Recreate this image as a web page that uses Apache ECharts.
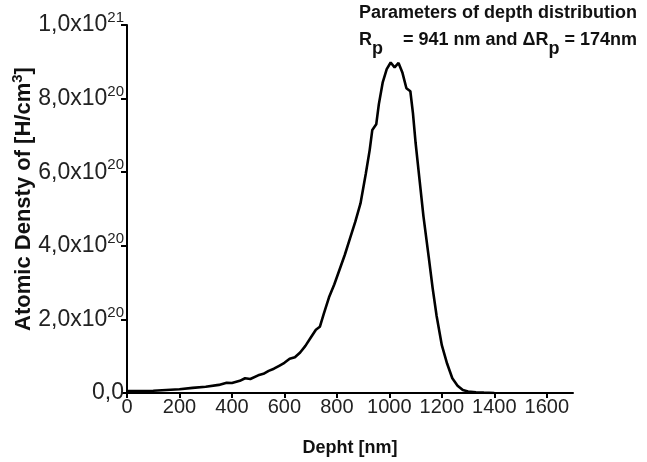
<!DOCTYPE html>
<html><head><meta charset="utf-8">
<script src="https://cdn.jsdelivr.net/npm/echarts@6/dist/echarts.min.js"></script>
<style>html,body{margin:0;padding:0;background:#fff}#c{width:647px;height:462px}</style>
</head><body><div id="c"></div>
<script>
// Depth (nm)
const depthNm = [0,50,100,150,200,250,300,350,380,400,430,450,470,500,520,540,560,580,600,620,640,660,680,700,720,735,750,770,790,810,830,850,870,890,910,925,935,950,960,975,990,1005,1020,1035,1050,1065,1080,1090,1100,1115,1130,1150,1165,1180,1200,1220,1240,1260,1280,1300,1330,1360,1400];
// Atomic density in units of 1e20 H/cm^3
const densityE20 = [0.05,0.05,0.06,0.08,0.10,0.14,0.17,0.22,0.28,0.27,0.33,0.40,0.38,0.48,0.52,0.60,0.66,0.74,0.82,0.93,0.97,1.10,1.28,1.50,1.72,1.80,2.15,2.60,2.95,3.35,3.75,4.20,4.65,5.15,5.95,6.60,7.15,7.30,7.85,8.45,8.80,8.98,8.85,8.97,8.70,8.28,8.20,7.60,6.80,5.80,4.80,3.70,2.85,2.10,1.30,0.80,0.40,0.20,0.08,0.04,0.02,0.01,0];
const xTicks = [0,200,400,600,800,1000,1200,1400,1600];
const yTicks = [0,2,4,6,8,10];

const FONT = "'Liberation Sans', Arial, sans-serif";
const data = depthNm.map((d, i) => [d, densityE20[i]]);

const chart = echarts.init(document.getElementById('c'), null, {renderer: 'canvas'});
chart.setOption({
  animation: false,
  backgroundColor: '#fff',
  grid: {left: 127, right: 74, top: 25, bottom: 69, containLabel: false},
  xAxis: {
    type: 'value', min: 0, max: 1700,
    name: 'Depht [nm]', nameLocation: 'middle', nameGap: 46,
    nameTextStyle: {fontFamily: FONT, fontWeight: 'bold', fontSize: 18, color: '#111'},
    axisLine: {lineStyle: {color: '#000', width: 2}},
    axisTick: {show: true, length: 5, lineStyle: {color: '#000', width: 2}, customValues: xTicks},
    axisLabel: {fontFamily: FONT, fontSize: 20, color: '#222', margin: 4, customValues: xTicks,
      formatter: function (v) { return String(v); }},
    splitLine: {show: false}
  },
  yAxis: {
    type: 'value', min: 0, max: 10, interval: 2,
    axisLine: {lineStyle: {color: '#000', width: 2}},
    axisTick: {show: true, length: 6, lineStyle: {color: '#000', width: 2}},
    axisLabel: {
      fontFamily: FONT, fontSize: 23, color: '#222', margin: 3,
      formatter: function (v) {
        if (v === 0) return '{b|0,0}';
        let exp = 20, m = v;
        if (m >= 10) { m = m / 10; exp = 21; }
        return '{b|' + m.toFixed(1).replace('.', ',') + 'x10}{s|' + exp + '}';
      },
      rich: {
        b: {fontFamily: FONT, fontSize: 23, color: '#222'},
        s: {fontFamily: FONT, fontSize: 15, color: '#222', padding: [0,0,14,0]}
      }
    },
    splitLine: {show: false}
  },
  graphic: [
    {type: 'text', x: 24, y: 199, rotation: Math.PI / 2, style: {
      text: '{a|Atomic Densty of [H/cm}{s|3}{a|]}', align: 'center', verticalAlign: 'middle',
      rich: {
        a: {fontFamily: FONT, fontWeight: 'bold', fontSize: 22, fill: '#111'},
        s: {fontFamily: FONT, fontWeight: 'bold', fontSize: 15, fill: '#111', padding: [0,0,12,0]}
      }
    }},
    {type: 'text', right: 10, top: 4, style: {text: 'Parameters of depth distribution', fontFamily: FONT, fontWeight: 'bold', fontSize: 18, fill: '#111'}},
    {type: 'text', right: 10, top: 31, style: {
      text: '{a|R}{p|p}{a|    = 941 nm and \u0394R}{p|p}{a| = 174nm}',
      rich: {
        a: {fontFamily: FONT, fontWeight: 'bold', fontSize: 18, fill: '#111', verticalAlign: 'top'},
        p: {fontFamily: FONT, fontWeight: 'bold', fontSize: 18, fill: '#111', padding: [9,0,0,0], verticalAlign: 'top'}
      }
    }}
  ],
  series: [{
    type: 'line', data: data, showSymbol: false, smooth: false,
    lineStyle: {color: '#000', width: 2.6}, clip: true
  }]
});
</script></body></html>
